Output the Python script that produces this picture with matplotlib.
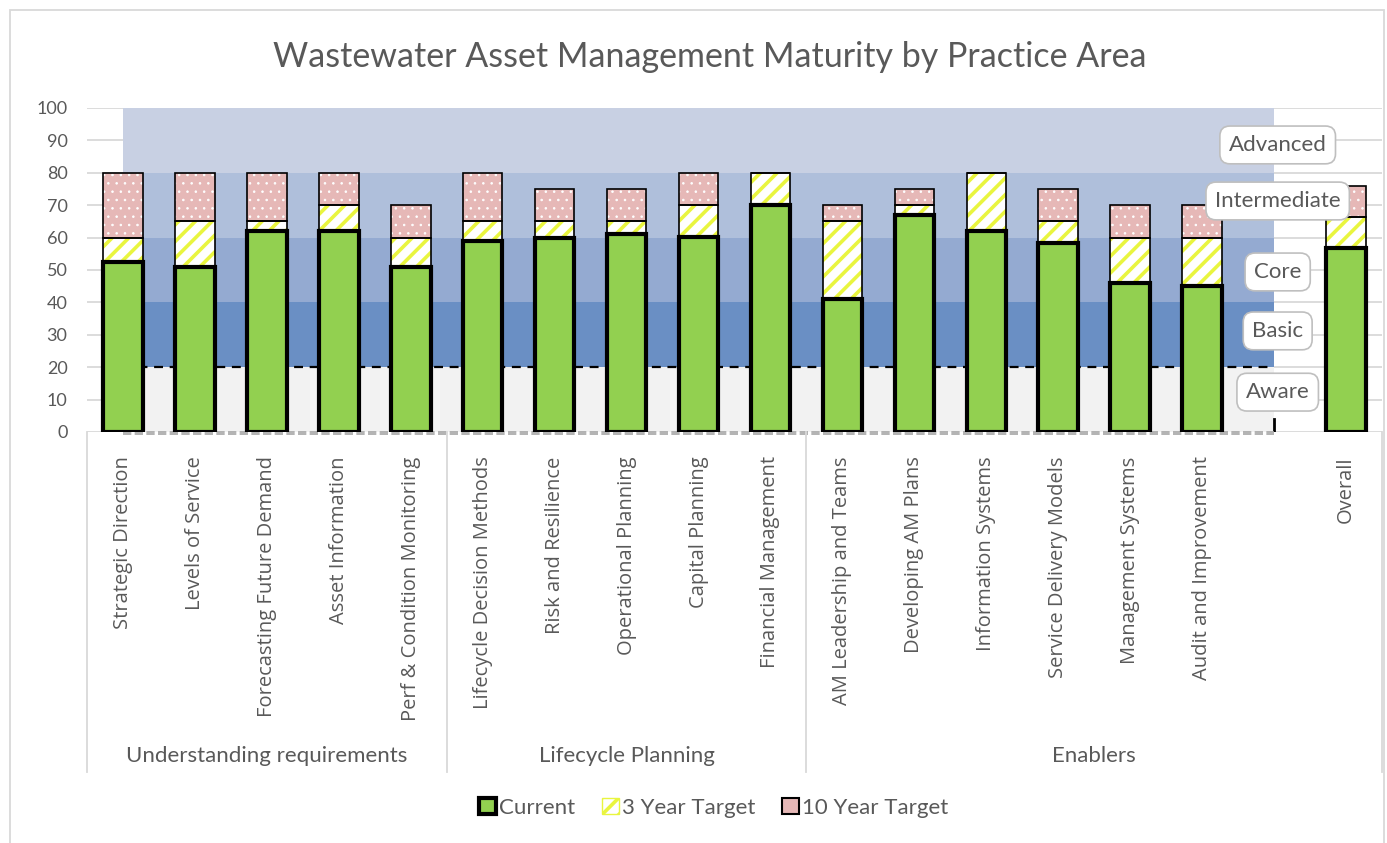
import numpy as np
import matplotlib
matplotlib.use("Agg")
import matplotlib.pyplot as plt
from matplotlib.patches import Patch, Rectangle

# practice areas (blank slot separates Overall from the rest)
categories = ["Strategic Direction", "Levels of Service", "Forecasting Future Demand",
              "Asset Information", "Perf & Condition Monitoring",
              "Lifecycle Decision Methods", "Risk and Resilience", "Operational Planning",
              "Capital Planning", "Financial Management",
              "AM Leadership and Teams", "Developing AM Plans", "Information Systems",
              "Service Delivery Models", "Management Systems", "Audit and Improvement",
              "", "Overall"]
groups = ["Understanding requirements", "Lifecycle Planning", "Enablers"]
group_sizes = [5, 5, 8]

# maturity scores (cumulative levels)
current = [52.4, 51, 62, 62, 51, 59, 60, 61, 60.3, 70, 41, 67, 62, 58.4, 46, 45, 0, 56.8]
target_3yr = [60, 65, 65, 70, 60, 65, 65, 65, 70, 80, 65, 70, 80, 65, 60, 60, 0, 66.5]
target_10yr = [80, 80, 80, 80, 70, 80, 75, 75, 80, 80, 70, 75, 80, 75, 70, 70, 0, 75.9]

# maturity bands
band_names = ["Aware", "Basic", "Core", "Intermediate", "Advanced"]
band_edges = [0, 20, 40, 60, 80, 100]
band_colors = ["#F2F2F2", "#6A8FC4", "#94AAD1", "#AFBFDB", "#C8D0E3"]
band_label_y = [12.3, 31.2, 49.4, 71.3, 88.6]

text_col = "#595959"
grid_col = "#D9D9D9"
green = "#92D050"
pink = "#E6B8B7"
yellow = "#E9F53F"

plt.rcParams["font.family"] = ["Lato", "DejaVu Sans"]
plt.rcParams["hatch.linewidth"] = 2.6

fig = plt.figure(figsize=(13.87, 8.43), dpi=100)
ax = fig.add_axes([87 / 1387, 1 - 432 / 843, 1295 / 1387, 324 / 843])

x = np.arange(len(categories))
n_band = 16  # bands run from first category to the blank slot

# gridlines
for v in range(0, 101, 10):
    ax.axhline(v, color=grid_col, lw=1.3, zorder=0)

# bands
for i, name in enumerate(band_names):
    ax.fill_between([0, n_band], band_edges[i], band_edges[i + 1],
                    color=band_colors[i], lw=0, zorder=1)
ax.plot([0, n_band], [20, 20], color="black", lw=1.6, ls=(0, (4, 3)), zorder=2)
ax.plot([n_band, n_band], [0, 4], color="black", lw=2, zorder=2)
ax.plot([0, n_band], [0, 0], color="#A6A6A6", lw=1.2, ls=(0, (5, 2)), zorder=2, clip_on=False)
ax.plot([0, n_band], [-0.75, -0.75], color="#A6A6A6", lw=1.2, ls=(0, (5, 2)), zorder=2, clip_on=False)

w = 0.55
cur = np.array(current)
t3 = np.array(target_3yr)
t10 = np.array(target_10yr)
show = np.array([c != "" for c in categories])


def set_hatch_lw(bars, lw):
    for b in bars:
        if hasattr(b, "set_hatch_linewidth"):
            b.set_hatch_linewidth(lw)


# 10 year target segment
seg10 = np.where(show, t10 - t3, 0)
with plt.rc_context({"hatch.linewidth": 0.6}):
    dots = ax.bar(x[show], seg10[show], w, bottom=t3[show], color=pink, edgecolor="white",
                  hatch="..", lw=0, zorder=3)
set_hatch_lw(dots, 0.6)
ax.bar(x[show], seg10[show], w, bottom=t3[show], fill=False, edgecolor="black",
       lw=1.2, zorder=4)
# 3 year target segment
seg3 = np.where(show, t3 - cur, 0)
stripes = ax.bar(x[show], seg3[show], w, bottom=cur[show], color="white", edgecolor=yellow,
                 hatch="//", lw=0, zorder=3)
set_hatch_lw(stripes, 2.6)
ax.bar(x[show], seg3[show], w, bottom=cur[show], fill=False, edgecolor="black",
       lw=1.2, zorder=4)
# current
ax.bar(x[show], cur[show], w, color=green, edgecolor="black", lw=3, zorder=5)

ax.set_xlim(-0.5, len(categories) - 0.5)
ax.set_ylim(0, 100)
ax.set_yticks(range(0, 101, 10))
ax.tick_params(axis="y", length=0, pad=14, labelsize=13, labelcolor=text_col)
ax.set_xticks([])
for s in ax.spines.values():
    s.set_visible(False)
ax.set_facecolor("none")

# category labels
tr = ax.get_xaxis_transform()
for i, c in enumerate(categories):
    ax.text(i, -0.075, c, rotation=90, ha="center", va="top", transform=tr,
            fontsize=14.5, color=text_col, family=["Open Sans", "DejaVu Sans"])

# group labels and separators
start = 0
bounds = [-0.5]
for g, n in zip(groups, group_sizes):
    ax.text(start + (n - 1) / 2, -1.0, g, ha="center", va="center", transform=tr,
            fontsize=16, color=text_col)
    start += n
    bounds.append(start - 0.5)
for b in bounds:
    ax.plot([b, b], [0, -1.05], color=grid_col, lw=1.3, transform=tr, clip_on=False)

# maturity band labels
for name, yv in zip(band_names, band_label_y):
    ax.text(16.05, yv, name, ha="center", va="center", fontsize=16, color=text_col,
            zorder=7, bbox=dict(boxstyle="round,pad=0.4,rounding_size=0.45",
                                fc="white", ec="#BFBFBF", lw=1.2))

fig.text(710 / 1387, 1 - 57 / 843, "Wastewater Asset Management Maturity by Practice Area",
         ha="center", va="center", fontsize=24.5, color=text_col)

handles = [
    Patch(facecolor=green, edgecolor="black", lw=3, label="Current"),
    Patch(facecolor="white", edgecolor=yellow, hatch="//", lw=1, label="3 Year Target"),
    Patch(facecolor=pink, edgecolor="black", lw=1.5, label="10 Year Target"),
]
fig.legend(handles=handles, loc="center", bbox_to_anchor=(714 / 1387, 1 - 808 / 843),
           ncol=3, frameon=False, fontsize=16, handlelength=0.75, handleheight=0.75,
           handletextpad=0.15, columnspacing=1.2, labelcolor=text_col)

# chart border
fig.add_artist(Rectangle((10 / 1387, -0.01), 1374 / 1387, 1 - 10 / 843 + 0.01,
                         transform=fig.transFigure, fill=False, ec=grid_col, lw=1.3))

fig.savefig("out.png", dpi=100)
